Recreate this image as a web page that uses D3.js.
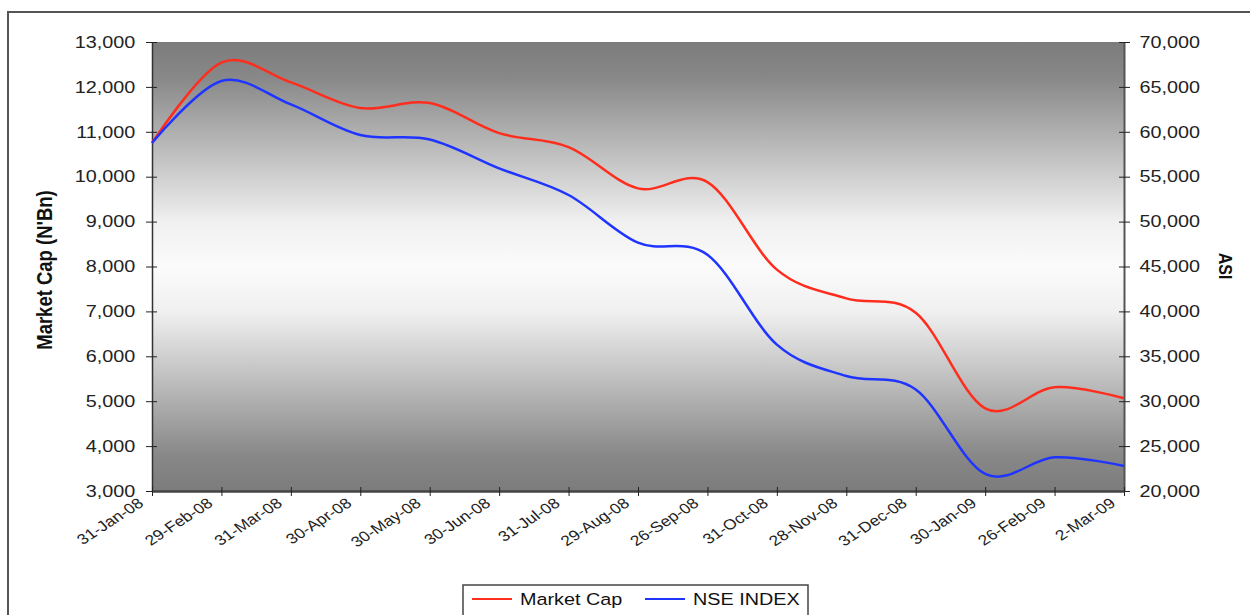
<!DOCTYPE html>
<html>
<head>
<meta charset="utf-8">
<script src="https://cdn.jsdelivr.net/npm/d3@7"></script>
<style>
  body { margin: 0; background: #fff; }
  svg { display: block; font-family: "Liberation Sans", Arial, sans-serif; }
</style>
</head>
<body>
<svg width="1250" height="615"></svg>
<script>
// month-end dates on the category axis
const dates = ["31-Jan-08", "29-Feb-08", "31-Mar-08", "30-Apr-08", "30-May-08", "30-Jun-08",
    "31-Jul-08", "29-Aug-08", "26-Sep-08", "31-Oct-08", "28-Nov-08", "31-Dec-08",
    "30-Jan-09", "26-Feb-09", "2-Mar-09"];

// Market Cap (N'Bn), left axis
const marketCap = [10750, 12540, 12100, 11530, 11640, 10970, 10660, 9740, 9880,
    7930, 7290, 6970, 4840, 5310, 5065];

// NSE All Share Index, right axis
const nseIndex = [58750, 65650, 63050, 59640, 59150, 55930, 52960, 47650, 46300,
    36300, 32800, 31300, 21900, 23750, 22790];

const leftTicks = [3000, 4000, 5000, 6000, 7000, 8000, 9000, 10000, 11000, 12000, 13000];
const rightTicks = [20000, 25000, 30000, 35000, 40000, 45000, 50000, 55000, 60000, 65000, 70000];

const margin = { top: 42, right: 126, bottom: 124, left: 152 },
    width = 1250 - margin.left - margin.right,
    height = 615 - margin.top - margin.bottom;

const svg = d3.select("svg");

// outer chart frame (runs off the right and bottom of the picture)
svg.append("rect")
    .attr("x", 8).attr("y", 12)
    .attr("width", 1260).attr("height", 620)
    .attr("fill", "none")
    .attr("stroke", "#555")
    .attr("stroke-width", 2);

const defs = svg.append("defs");
const grad = defs.append("linearGradient")
    .attr("id", "bg")
    .attr("x1", 0).attr("y1", 0).attr("x2", 0).attr("y2", 1);
[["0%", "#7c7c7c"], ["8%", "#888"], ["40%", "#f0f0f0"], ["50%", "#fbfbfb"],
 ["60%", "#f0f0f0"], ["92%", "#888"], ["100%", "#7c7c7c"]].forEach(s => {
    grad.append("stop").attr("offset", s[0]).attr("stop-color", s[1]);
});

const g = svg.append("g")
    .attr("transform", "translate(" + margin.left + "," + margin.top + ")");

g.append("rect")
    .attr("width", width).attr("height", height)
    .attr("fill", "url(#bg)");

const x = d3.scalePoint().domain(dates).range([0, width]);
const yL = d3.scaleLinear().domain([3000, 13000]).range([height, 0]);
const yR = d3.scaleLinear().domain([20000, 70000]).range([height, 0]);

const stretch = "scale(1.2,1)";  // the source picture is stretched sideways

// left axis
const axL = g.append("g")
    .call(d3.axisLeft(yL).tickValues(leftTicks).tickFormat(d3.format(",")).tickSize(6).tickSizeOuter(0));
axL.selectAll(".tick line").attr("x1", 5).attr("stroke", "#222");
axL.selectAll(".tick text")
    .attr("x", -14)
    .attr("transform", stretch)
    .style("font-size", "16.5px").attr("fill", "#222");
axL.select(".domain").attr("stroke", "#333").attr("stroke-width", 1.5);

// right axis
const axR = g.append("g")
    .attr("transform", "translate(" + width + ",0)")
    .call(d3.axisRight(yR).tickValues(rightTicks).tickFormat(d3.format(",")).tickSize(6).tickSizeOuter(0));
axR.selectAll(".tick line").attr("x1", -5).attr("stroke", "#222");
axR.selectAll(".tick text")
    .attr("x", 13)
    .attr("transform", stretch)
    .style("font-size", "16.5px").attr("fill", "#222");
axR.select(".domain").attr("stroke", "#555").attr("stroke-width", 2);

// bottom axis
const axB = g.append("g")
    .attr("transform", "translate(0," + height + ")")
    .call(d3.axisBottom(x).tickSize(5).tickSizeOuter(0));
axB.selectAll(".tick line").attr("y1", -4).attr("stroke", "#222");
axB.selectAll(".tick text")
    .attr("x", 0).attr("y", 0).attr("dy", 0)
    .style("text-anchor", "end")
    .style("font-size", "14.5px").attr("fill", "#222")
    .attr("transform", "translate(-8,14) scale(1.2,1) rotate(-38)");
axB.select(".domain").attr("stroke", "#444").attr("stroke-width", 2.5);

// axis titles
svg.append("text")
    .attr("transform", "translate(52,270) rotate(-90) scale(1,1.2)")
    .attr("text-anchor", "middle")
    .style("font-size", "18.5px").style("font-weight", "bold").attr("fill", "#111")
    .text("Market Cap (N'Bn)");

svg.append("text")
    .attr("transform", "translate(1219,266) rotate(90) scale(1,1.2)")
    .attr("text-anchor", "middle")
    .style("font-size", "16px").style("font-weight", "bold").attr("fill", "#111")
    .text("ASI");

// lines
const lineL = d3.line()
    .x((d, i) => x(dates[i]))
    .y(d => yL(d))
    .curve(d3.curveCardinal.tension(0));
const lineR = d3.line()
    .x((d, i) => x(dates[i]))
    .y(d => yR(d))
    .curve(d3.curveCardinal.tension(0));

g.append("path")
    .datum(marketCap)
    .attr("fill", "none")
    .attr("stroke", "#ff2d1e")
    .attr("stroke-width", 2.5)
    .attr("d", lineL);

g.append("path")
    .datum(nseIndex)
    .attr("fill", "none")
    .attr("stroke", "#1f35ff")
    .attr("stroke-width", 2.5)
    .attr("d", lineR);

// legend
const legend = svg.append("g").attr("transform", "translate(463,585)");
legend.append("rect")
    .attr("width", 345).attr("height", 34)
    .attr("fill", "#fff")
    .attr("stroke", "#444").attr("stroke-width", 1.5);

const items = [
    { name: "Market Cap", color: "#ff2d1e", x: 9 },
    { name: "NSE INDEX", color: "#1f35ff", x: 182 }
];
items.forEach(it => {
    legend.append("line")
        .attr("x1", it.x).attr("x2", it.x + 40)
        .attr("y1", 14).attr("y2", 14)
        .attr("stroke", it.color).attr("stroke-width", 2);
    legend.append("text")
        .attr("transform", "translate(" + (it.x + 48) + ",20) scale(1.2,1)")
        .style("font-size", "16.5px").attr("fill", "#111")
        .text(it.name);
});
</script>
</body>
</html>
